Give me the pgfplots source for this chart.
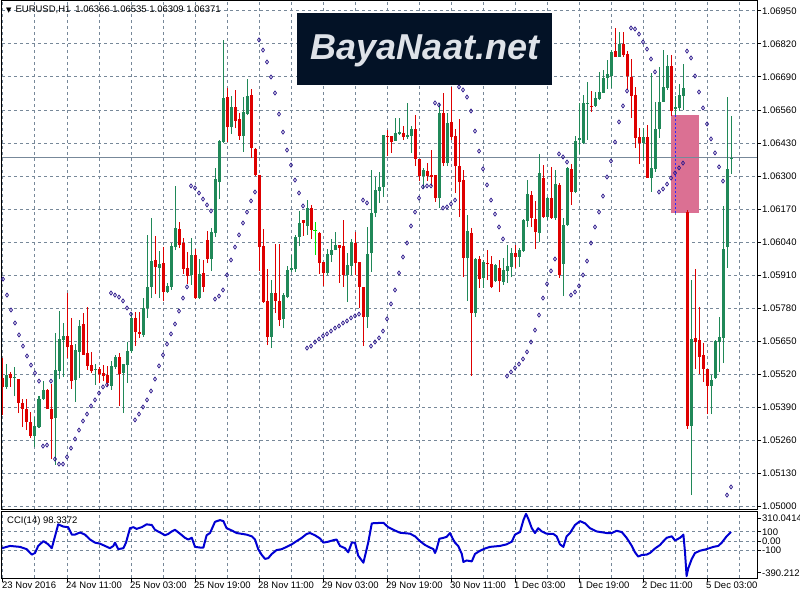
\documentclass[border=0pt]{standalone}
\usepackage{pgfplots}
\pgfplotsset{compat=1.18}
\usepackage{pgfplotstable}
\usepackage{fontspec}
\setmainfont{Liberation Sans}
\newfontfamily\dejavu{DejaVu Sans}
\definecolor{gridc}{RGB}{119,136,153}
\definecolor{bull}{RGB}{32,136,88}
\definecolor{bear}{RGB}{222,0,0}
\definecolor{sarc}{RGB}{45,25,140}
\definecolor{ccic}{RGB}{0,0,210}
\definecolor{pinkc}{RGB}{219,112,147}
\definecolor{logobg}{RGB}{3,18,38}
\definecolor{limec}{RGB}{0,230,0}

\pgfplotstableread{
k o h l c
0 1.05504 1.05583 1.05358 1.05469
2 1.05520 1.05528 1.05469 1.05504
4 1.05500 1.05500 1.05366 1.05406
5 1.05406 1.05422 1.05311 1.05382
6 1.05382 1.05422 1.05299 1.05331
7 1.05331 1.05370 1.05268 1.05276
11 1.05457 1.05461 1.05382 1.05382
12 1.05382 1.05481 1.05185 1.05343
16 1.05670 1.05839 1.05583 1.05626
17 1.05634 1.05741 1.05461 1.05492
20 1.05717 1.05760 1.05595 1.05595
21 1.05603 1.05784 1.05536 1.05552
22 1.05555 1.05607 1.05524 1.05532
24 1.05540 1.05548 1.05485 1.05520
25 1.05524 1.05555 1.05492 1.05512
26 1.05516 1.05552 1.05473 1.05485
29 1.05587 1.05603 1.05394 1.05520
33 1.05741 1.05764 1.05630 1.05685
34 1.05685 1.05764 1.05662 1.05678
38 1.05969 1.06064 1.05835 1.05942
40 1.05957 1.06020 1.05808 1.05843
44 1.06091 1.06119 1.06016 1.06028
45 1.06036 1.06056 1.05914 1.05934
46 1.05938 1.06001 1.05875 1.05906
48 1.05989 1.06012 1.05815 1.05819
50 1.05918 1.05969 1.05843 1.05863
51 1.06048 1.06083 1.05957 1.05973
56 1.06611 1.06647 1.06434 1.06493
58 1.06572 1.06639 1.06489 1.06517
59 1.06525 1.06548 1.06442 1.06458
62 1.06619 1.06643 1.06371 1.06410
63 1.06406 1.06410 1.06300 1.06304
64 1.06304 1.06304 1.05926 1.06020
65 1.06024 1.06091 1.05800 1.05804
66 1.05808 1.05934 1.05634 1.05666
68 1.05839 1.06032 1.05760 1.05808
69 1.05808 1.06032 1.05709 1.05733
75 1.06127 1.06127 1.06064 1.06115
77 1.06174 1.06186 1.06052 1.06087
79 1.06075 1.06079 1.05914 1.05957
80 1.05961 1.05961 1.05867 1.05918
84 1.06028 1.06028 1.05879 1.06016
85 1.06024 1.06127 1.05863 1.05910
88 1.06036 1.06079 1.05910 1.05957
89 1.05961 1.05961 1.05780 1.05863
90 1.05863 1.05863 1.05630 1.05745
96 1.06458 1.06481 1.06379 1.06454
97 1.06458 1.06458 1.06391 1.06434
100 1.06469 1.06497 1.06442 1.06454
103 1.06485 1.06540 1.06339 1.06367
104 1.06367 1.06367 1.06280 1.06300
106 1.06320 1.06351 1.06280 1.06300
107 1.06304 1.06402 1.06261 1.06296
108 1.06304 1.06304 1.06198 1.06213
110 1.06548 1.06627 1.06339 1.06351
112 1.06513 1.06651 1.06442 1.06454
113 1.06458 1.06485 1.06233 1.06339
114 1.06339 1.06525 1.06139 1.06276
115 1.06284 1.06324 1.05902 1.05977
117 1.06075 1.06095 1.05512 1.05760
119 1.05973 1.05985 1.05859 1.05894
121 1.05957 1.06008 1.05890 1.05953
122 1.05953 1.05985 1.05859 1.05863
124 1.05938 1.05969 1.05843 1.05886
128 1.05997 1.06028 1.05938 1.05981
132 1.06225 1.06241 1.06099 1.06135
133 1.06131 1.06202 1.06012 1.06079
135 1.06292 1.06343 1.06135 1.06139
137 1.06213 1.06335 1.06131 1.06135
139 1.06265 1.06272 1.05898 1.05910
142 1.06328 1.06347 1.06186 1.06237
147 1.06576 1.06635 1.06552 1.06572
153 1.06792 1.06883 1.06769 1.06769
155 1.06820 1.06867 1.06769 1.06777
156 1.06781 1.06792 1.06639 1.06694
157 1.06690 1.06761 1.06528 1.06615
158 1.06619 1.06651 1.06410 1.06450
159 1.06454 1.06489 1.06347 1.06430
161 1.06454 1.06501 1.06292 1.06292
167 1.06733 1.06777 1.06536 1.06556
171 1.06158 1.06166 1.05303 1.05315
173 1.05662 1.05934 1.05540 1.05646
174 1.05654 1.05784 1.05520 1.05587
175 1.05595 1.05642 1.05488 1.05540
176 1.05540 1.05540 1.05362 1.05473
}\bear

\pgfplotstableread{
k o h l c
1 1.05469 1.05559 1.05461 1.05516
3 1.05504 1.05548 1.05433 1.05508
8 1.05276 1.05351 1.05232 1.05315
9 1.05311 1.05433 1.05307 1.05422
10 1.05422 1.05492 1.05418 1.05457
13 1.05347 1.05682 1.05162 1.05536
14 1.05532 1.05768 1.05500 1.05658
15 1.05654 1.05721 1.05508 1.05670
18 1.05496 1.05638 1.05410 1.05615
19 1.05607 1.05733 1.05504 1.05709
23 1.05536 1.05559 1.05477 1.05540
27 1.05473 1.05571 1.05457 1.05552
28 1.05548 1.05595 1.05540 1.05587
30 1.05524 1.05559 1.05366 1.05559
31 1.05555 1.05646 1.05485 1.05611
32 1.05611 1.05760 1.05603 1.05741
35 1.05674 1.05819 1.05666 1.05780
36 1.05780 1.06068 1.05741 1.05863
37 1.05863 1.06135 1.05819 1.05965
39 1.05938 1.06005 1.05819 1.05953
41 1.05843 1.05879 1.05839 1.05867
42 1.05863 1.06036 1.05851 1.06024
43 1.06020 1.06261 1.06008 1.06095
47 1.05910 1.06056 1.05871 1.05989
49 1.05819 1.05973 1.05815 1.05914
52 1.05973 1.06095 1.05926 1.06079
53 1.06075 1.06332 1.06060 1.06288
54 1.06276 1.06442 1.06209 1.06438
55 1.06434 1.06836 1.06430 1.06607
57 1.06493 1.06615 1.06465 1.06572
60 1.06458 1.06611 1.06395 1.06552
61 1.06544 1.06682 1.06540 1.06615
67 1.05666 1.05890 1.05622 1.05839
70 1.05737 1.05839 1.05701 1.05831
71 1.05823 1.05945 1.05819 1.05930
72 1.05930 1.05989 1.05922 1.05938
73 1.05934 1.06068 1.05922 1.06060
74 1.06060 1.06162 1.06024 1.06115
76 1.06103 1.06205 1.06068 1.06174
81 1.05918 1.06012 1.05910 1.05993
82 1.05989 1.06052 1.05961 1.06008
83 1.06008 1.06079 1.06008 1.06028
86 1.05910 1.05997 1.05804 1.05949
87 1.05945 1.06052 1.05910 1.06040
91 1.05745 1.06099 1.05701 1.05993
92 1.05997 1.06324 1.05922 1.06154
93 1.06154 1.06296 1.06138 1.06245
94 1.06241 1.06316 1.06194 1.06257
95 1.06257 1.06462 1.06217 1.06462
98 1.06438 1.06528 1.06438 1.06469
99 1.06465 1.06528 1.06461 1.06473
101 1.06454 1.06588 1.06446 1.06462
102 1.06458 1.06497 1.06391 1.06485
105 1.06300 1.06332 1.06253 1.06324
109 1.06213 1.06588 1.06174 1.06548
111 1.06351 1.06548 1.06339 1.06509
116 1.05977 1.06146 1.05808 1.06083
118 1.05760 1.05977 1.05745 1.05973
120 1.05898 1.05969 1.05859 1.05961
123 1.05886 1.05953 1.05882 1.05949
125 1.05882 1.05977 1.05871 1.05930
126 1.05926 1.06028 1.05879 1.05945
127 1.05942 1.06016 1.05902 1.05997
129 1.05981 1.06016 1.05942 1.06008
130 1.06005 1.06131 1.06001 1.06127
131 1.06123 1.06284 1.06099 1.06229
134 1.06075 1.06387 1.06040 1.06312
136 1.06139 1.06217 1.06127 1.06213
138 1.06135 1.06324 1.06127 1.06268
140 1.05953 1.06135 1.05827 1.06107
141 1.06107 1.06335 1.06103 1.06332
143 1.06237 1.06458 1.06233 1.06438
144 1.06442 1.06588 1.06387 1.06450
145 1.06430 1.06619 1.06426 1.06588
146 1.06584 1.06670 1.06442 1.06588
148 1.06576 1.06631 1.06572 1.06607
149 1.06603 1.06710 1.06599 1.06631
150 1.06627 1.06718 1.06627 1.06686
151 1.06686 1.06757 1.06643 1.06702
152 1.06694 1.06796 1.06647 1.06788
154 1.06769 1.06867 1.06769 1.06820
160 1.06430 1.06489 1.06363 1.06454
162 1.06292 1.06706 1.06237 1.06332
163 1.06328 1.06592 1.06316 1.06485
164 1.06485 1.06729 1.06450 1.06592
165 1.06592 1.06796 1.06592 1.06651
166 1.06647 1.06777 1.06639 1.06733
168 1.06564 1.06615 1.06540 1.06572
169 1.06568 1.06662 1.06556 1.06619
170 1.06615 1.06741 1.06560 1.06647
172 1.05315 1.05890 1.05043 1.05658
177 1.05473 1.05516 1.05362 1.05496
178 1.05504 1.05654 1.05500 1.05650
179 1.05646 1.05745 1.05528 1.05666
180 1.05662 1.06182 1.05563 1.06012
181 1.06020 1.06611 1.05938 1.06328
182 1.06366 1.06535 1.06309 1.06371
}\bull

\pgfplotstableread{
k s
0 1.05894
1 1.05831
2 1.05772
3 1.05721
4 1.05674
5 1.05630
6 1.05591
7 1.05555
8 1.05524
9 1.05492
10 1.05236
11 1.05240
12 1.05492
13 1.05185
14 1.05165
15 1.05165
16 1.05193
17 1.05228
18 1.05264
19 1.05299
20 1.05335
21 1.05362
22 1.05394
23 1.05418
24 1.05445
25 1.05469
26 1.05477
27 1.05839
28 1.05831
29 1.05823
30 1.05808
31 1.05780
32 1.05756
33 1.05339
34 1.05362
35 1.05390
36 1.05418
37 1.05453
38 1.05500
39 1.05552
40 1.05595
41 1.05638
42 1.05678
43 1.05717
44 1.05768
45 1.05819
46 1.05863
47 1.06261
48 1.06253
49 1.06233
50 1.06209
51 1.06186
52 1.06162
53 1.05815
54 1.05827
55 1.05851
56 1.05910
57 1.05969
58 1.06020
59 1.06068
60 1.06115
61 1.06158
62 1.06202
63 1.06237
64 1.06836
65 1.06796
66 1.06749
67 1.06690
68 1.06627
69 1.06544
70 1.06473
71 1.06402
72 1.06343
73 1.06284
74 1.06233
75 1.06182
76 1.05622
77 1.05630
78 1.05646
79 1.05658
80 1.05670
81 1.05678
82 1.05689
83 1.05701
84 1.05709
85 1.05721
86 1.05729
87 1.05741
88 1.05749
89 1.05756
90 1.06205
91 1.06194
92 1.05630
93 1.05646
94 1.05662
95 1.05689
96 1.05737
97 1.05796
98 1.05851
99 1.05918
100 1.05981
101 1.06036
102 1.06103
103 1.06158
104 1.06213
105 1.06257
106 1.06261
107 1.06261
108 1.06588
109 1.06580
110 1.06174
111 1.06178
112 1.06190
113 1.06205
114 1.06651
115 1.06639
116 1.06611
117 1.06556
118 1.06477
119 1.06398
120 1.06328
121 1.06265
122 1.06205
123 1.06150
124 1.06099
125 1.06052
126 1.05512
127 1.05528
128 1.05544
129 1.05559
130 1.05579
131 1.05607
132 1.05646
133 1.05693
134 1.05752
135 1.05819
136 1.05875
137 1.05926
138 1.05973
139 1.06387
140 1.06375
141 1.06355
142 1.05831
143 1.05843
144 1.05867
145 1.05910
146 1.05965
147 1.06036
148 1.06099
149 1.06158
150 1.06221
151 1.06296
152 1.06359
153 1.06434
154 1.06513
155 1.06576
156 1.06635
157 1.06883
158 1.06879
159 1.06859
160 1.06828
161 1.06800
162 1.06761
163 1.06710
164 1.06237
165 1.06249
166 1.06268
167 1.06292
168 1.06312
169 1.06332
170 1.06351
171 1.06792
172 1.06765
173 1.06694
174 1.06631
175 1.06568
176 1.06505
177 1.06446
178 1.06391
179 1.06336
180 1.06280
181 1.05043
182 1.05075
}\sar

\newcommand\fs{\fontsize{9.5}{11}\selectfont}

\pgfplotsset{
  wick/.style={only marks, mark=*, mark options={opacity=0}, forget plot,
    error bars/.cd, y dir=plus, y explicit, error mark=none,
    error bar style={draw=#1, line width=1pt}},
  body/.style={only marks, mark=*, mark options={opacity=0}, forget plot,
    error bars/.cd, y dir=plus, y explicit, error mark=none,
    error bar style={draw=#1, line width=3pt}},
}

\begin{document}
\begin{tikzpicture}
\path[use as bounding box] (0pt,0pt) rectangle (800pt,600pt);

\begin{axis}[at={(2pt,91pt)}, anchor=south west, scale only axis,
  width=755pt, height=508pt,
  xmin=-0.25, xmax=188.5, ymin=1.049882, ymax=1.069894,
  axis line style={black, line width=1pt},
  xtick={0,8,...,184}, xticklabels={}, xtick style={draw=none},
  ytick={1.05,1.0513,1.0526,1.0539,1.0552,1.0565,1.0578,1.0591,1.0604,1.0617,1.063,1.0643,1.0656,1.0669,1.0682,1.0695},
  yticklabels={1.05000,1.05130,1.05260,1.05390,1.05520,1.05650,1.05780,1.05910,1.06040,1.06170,1.06300,1.06430,1.06560,1.06690,1.06820,1.06950},
  ytick pos=right, yticklabel pos=right, tick align=outside,
  major tick length=4pt,
  ytick style={black, line width=1pt},
  grid=major, major grid style={gridc, line width=1pt, dash pattern=on 3pt off 3pt},
  yticklabel style={anchor=west, font=\fs, inner sep=0pt, xshift=1pt},
  /pgf/number format/assume math mode=true,
]
\addplot[fill=pinkc, draw=none, forget plot] coordinates {(167,1.06154) (174,1.06154) (174,1.06540) (167,1.06540)};
\addplot[gridc, line width=1pt, forget plot] coordinates {(-0.25,1.06371) (188.5,1.06371)};
\addplot[wick=bear] table[x=k, y=l, y error plus expr=\thisrow{h}-\thisrow{l}] {\bear};
\addplot[body=bear] table[x=k, y=c, y error plus expr=\thisrow{o}-\thisrow{c}] {\bear};
\addplot[wick=bull] table[x=k, y=l, y error plus expr=\thisrow{h}-\thisrow{l}] {\bull};
\addplot[body=bull] table[x=k, y=o, y error plus expr=\thisrow{c}-\thisrow{o}] {\bull};
\addplot[wick=limec] table[x=k, y=l, y error plus expr=\thisrow{h}-\thisrow{l}] {
k l h
78 1.05989 1.06119
};
\addplot[only marks, mark=-, mark size=2pt, limec, line width=1pt, forget plot] coordinates {(78,1.06087)};
\addplot[only marks, mark=diamond, mark size=2pt, mark options={draw=sarc, fill=white, line width=0.75pt}] table[x=k, y=s] {\sar};
\addplot[color={rgb,255:red,40;green,40;blue,255}, line width=1pt, dash pattern=on 2pt off 2pt, forget plot] coordinates {(168,1.06154) (168,1.06540)};
\node[anchor=west, fill=black, text=white, font=\fs, inner xsep=1.5pt, inner ysep=0pt, minimum height=13pt, xshift=2pt] at (axis cs:188.5,1.06371) {1.06371};
\node[anchor=north west, font=\fs, inner sep=0pt, xshift=4pt, yshift=-5pt] at (rel axis cs:0,1) {{\dejavu\fontsize{7}{7}\selectfont ▼}\hspace{4pt}EURUSD,H1\hspace{5pt}1.06366 1.06535 1.06309 1.06371};
\end{axis}

\fill[logobg] (297pt,515pt) rectangle (552pt,587pt);
\node[text={rgb,255:red,222;green,226;blue,232}, font=\fontsize{36}{40}\selectfont\bfseries\itshape] at (425pt,549pt) {BayaNaat.net};

\begin{axis}[at={(2pt,22pt)}, anchor=south west, scale only axis,
  width=755pt, height=66pt,
  xmin=-0.25, xmax=188.5, ymin=-390.2126, ymax=310.0414,
  axis line style={black, line width=1pt},
  xtick={0,16,...,176}, minor xtick={8,24,...,184},
  xticklabels={23 Nov 2016,24 Nov 11:00,25 Nov 03:00,25 Nov 19:00,28 Nov 11:00,29 Nov 03:00,29 Nov 19:00,30 Nov 11:00,1 Dec 03:00,1 Dec 19:00,2 Dec 11:00,5 Dec 03:00},
  xtick pos=bottom, ytick pos=right, yticklabel pos=right, tick align=outside,
  major tick length=4pt, minor tick length=0pt,
  tick style={black, line width=1pt},
  ytick={-100,0,100}, yticklabels={-100,0.00,100},
  extra y ticks={246,-337}, extra y tick labels={310.0414,-390.2126},
  extra y tick style={grid=none},
  xmajorgrids, xminorgrids, ymajorgrids,
  major grid style={gridc, line width=1pt, dash pattern=on 3pt off 3pt},
  minor grid style={gridc, line width=1pt, dash pattern=on 3pt off 3pt},
  yticklabel style={anchor=west, font=\fs, inner sep=0pt, xshift=1pt},
  xticklabel style={anchor=north west, font=\fs, inner sep=0pt, xshift=-1pt},
  /pgf/number format/assume math mode=true,
]
\addplot[ccic, line width=2pt, line join=round] coordinates {
(-0.25,-74) (1.75,-50) (4.25,-60) (5.9,-84) (7.2,-142) (8,-125) (8.8,-50) (10.1,1) (11.3,-33) (12.2,-74) (13,52) (13.8,179) (15.1,155) (16.3,149) (17.2,70) (18,70) (19.25,93) (20.5,70) (21.75,18) (23,-15) (24.25,-26) (25.5,-50) (26.75,-74) (27.6,-50) (28,-15) (28.8,-84) (30.1,-74) (30.75,-15) (31.75,138) (32.6,149) (33.4,131) (34.7,149) (35.9,179) (37.2,172) (38,121) (39.25,93) (40.5,63) (41.3,77) (42.2,104) (43,121) (44.25,80) (45.5,36) (46.3,18) (47.2,36) (48,-60) (49.25,-67) (50.1,-67) (50.9,63) (51.75,87) (53,206) (54.25,224) (55.1,213) (55.9,138) (57.2,114) (58.4,87) (60.9,70) (62.2,52) (63,18) (63.8,-84) (64.7,-146) (65.5,-187) (66.3,-180) (67.2,-135) (68.4,-94) (69.7,-84) (70.9,-60) (72.2,-33) (73.4,1) (74.7,36) (75.9,77) (76.75,87) (78,63) (79.25,29) (80.1,-15) (81.3,-5) (82.6,11) (83.4,18) (84.25,-50) (85.5,-74) (86.3,-118) (87.2,-15) (88,-15) (88.8,-153) (90.1,-228) (91.3,-15) (92.2,190) (95.1,196) (96.3,149) (97.6,121) (99.25,90) (101.75,80) (103,52) (104.25,1) (105.5,-40) (106.75,-67) (107.6,-84) (108,-125) (108.4,-84) (109.1,26) (110.1,36) (110.9,46) (111.75,87) (112.4,29) (113,-15) (113.8,-50) (114.7,-135) (115.1,-221) (115.9,-204) (117.2,-214) (118,-135) (119.25,-101) (120.5,-77) (121.75,-60) (124.25,-50) (125.9,-33) (127.2,-5) (128,70) (129.25,97) (130.1,224) (130.75,290) (131.3,241) (132.2,138) (133,87) (133.8,138) (134.7,104) (135.9,80) (137.6,77) (138.4,52) (139.25,-33) (140.1,-60) (140.9,52) (141.75,87) (143,172) (144.25,213) (145.5,190) (146.75,138) (148.4,104) (150.9,87) (152.2,87) (153.4,111) (154.7,97) (155.9,36) (157.2,-50) (158,-118) (158.8,-163) (159.7,-146) (160.9,-142) (161.75,-125) (163,-77) (164.25,-40) (165.1,1) (165.9,36) (167.2,52) (168,8) (169.25,36) (170.1,70) (170.5,-118) (170.9,-370) (171.3,-289) (172.2,-187) (173,-125) (174.25,-101) (175.9,-84) (177.6,-60) (178.8,-50) (179.7,-15) (180.9,52) (181.75,87) (182,98)
};
\node[anchor=north west, font=\fs, inner sep=0pt, xshift=5pt, yshift=-4pt] at (rel axis cs:0,1) {CCI(14) 98.3372};
\end{axis}
\end{tikzpicture}
\end{document}
